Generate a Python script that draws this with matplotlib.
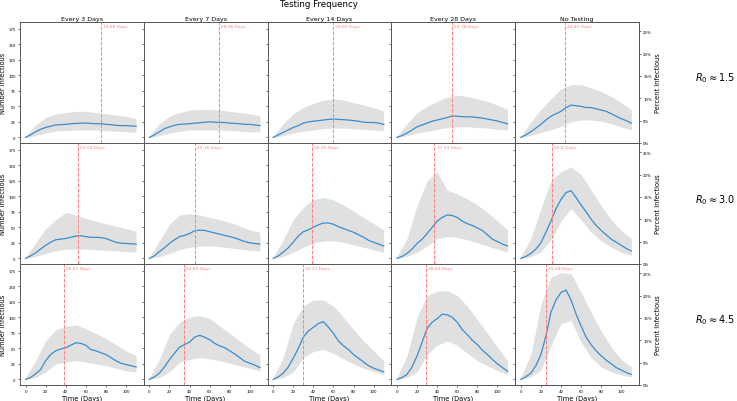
import matplotlib.pyplot as plt
import matplotlib.ticker as mtick

# ---------------- data ----------------
col_titles = ['Every 3 Days', 'Every 7 Days', 'Every 14 Days', 'Every 28 Days', 'No Testing']
row_labels = [r'$R_0 \approx 1.5$', r'$R_0 \approx 3.0$', r'$R_0 \approx 4.5$']

days = list(range(0, 111, 5))          # mean curve sampling
env_days = list(range(0, 111, 10))     # spread envelope sampling

# mean number infectious (blue line), one list per panel
mean_r15 = [
    [0, 4, 9, 13, 16, 18, 20, 20.5, 21, 22, 22.5, 23, 23, 22.5, 22, 22, 21, 20.5, 19.5, 19, 19, 18.5, 18],
    [0, 4, 9, 14, 17, 19.5, 21, 21.5, 22, 23, 23.5, 24.5, 25, 24.5, 24, 24, 23, 22.5, 22, 21, 21, 20, 19],
    [0, 4, 8, 12, 16, 19, 23, 25, 26, 27, 28, 29, 29.5, 29, 28.5, 28, 27, 26, 24.5, 24, 24, 23, 21],
    [0, 3, 7, 12, 17, 20, 23, 26, 28, 30, 32, 34.5, 34, 33.5, 33, 33, 32, 31, 29.5, 28, 26.5, 24, 22],
    [0, 4, 9, 15, 21, 28, 34, 38, 42, 48, 52, 51, 50, 48, 48, 46, 44, 42, 38, 34, 30, 27, 23],
]
mean_r30 = [
    [0, 4, 9, 15, 21, 26, 30, 31, 32, 34, 36, 36.5, 35, 34, 34, 33.5, 32, 29, 26, 24.5, 24, 23.5, 23],
    [0, 4, 11, 17, 24, 30, 35, 37, 40, 44.5, 45.5, 45, 43, 41, 39, 37, 35, 33, 30, 27, 25, 24, 23],
    [0, 4, 10, 17, 26, 36, 43, 46, 50, 54, 57, 57, 55, 51, 48, 45, 42, 38, 34, 29, 26, 23, 20],
    [0, 3, 8, 15, 24, 31, 40, 50, 60, 66, 70, 69, 66, 60, 56, 53, 49, 45, 38, 31, 27, 23, 20],
    [0, 3, 8, 15, 25, 42, 60, 80, 95, 106, 109, 98, 86, 75, 63, 53, 45, 38, 31, 26, 21, 16, 12],
]
mean_r45 = [
    [0, 3, 9, 16, 30, 40, 46, 49, 51, 55, 59, 58, 55, 48, 46, 43, 40, 35, 30, 26, 24, 22, 20],
    [0, 4, 10, 20, 32, 42, 52, 56, 60, 68, 71, 68, 64, 58, 54, 51, 46, 41, 35, 29, 26, 23, 19],
    [0, 4, 10, 20, 34, 50, 68, 78, 84, 90, 93, 84, 74, 62, 54, 48, 40, 34, 28, 22, 18, 15, 12],
    [0, 3, 8, 20, 38, 60, 82, 92, 98, 105, 104, 100, 92, 80, 72, 63, 56, 47, 40, 32, 25, 19, 13],
    [0, 4, 10, 22, 40, 70, 108, 128, 140, 144, 128, 105, 86, 68, 56, 46, 38, 31, 25, 19, 15, 11, 8],
]

# lowest / highest of the grey simulation runs
low_r15 = [
    [0, 3, 7, 10, 11, 12, 12, 12, 11, 10, 9, 8],
    [0, 3, 7, 10, 12, 12, 12, 12, 11, 10, 9, 9],
    [0, 3, 7, 10, 12, 14, 15, 15, 14, 13, 12, 11],
    [0, 3, 7, 10, 13, 16, 17, 17, 16, 15, 13, 12],
    [0, 3, 8, 12, 18, 25, 28, 28, 26, 22, 17, 12],
]
high_r15 = [
    [2, 20, 32, 38, 40, 42, 42, 40, 38, 36, 34, 30],
    [2, 22, 34, 40, 44, 45, 45, 44, 42, 40, 38, 35],
    [2, 22, 38, 48, 55, 60, 62, 60, 56, 52, 48, 42],
    [2, 22, 40, 50, 58, 65, 68, 66, 62, 58, 52, 45],
    [2, 25, 45, 62, 78, 85, 85, 80, 74, 66, 56, 45],
]
low_r30 = [
    [0, 3, 8, 12, 15, 15, 15, 14, 13, 12, 11, 10],
    [0, 3, 8, 14, 18, 20, 20, 19, 17, 15, 13, 12],
    [0, 3, 10, 18, 25, 28, 28, 26, 22, 18, 14, 10],
    [0, 3, 10, 20, 32, 35, 34, 30, 25, 20, 15, 10],
    [0, 3, 10, 30, 60, 80, 62, 42, 28, 18, 10, 5],
]
high_r30 = [
    [2, 25, 48, 62, 74, 70, 64, 60, 56, 52, 48, 44],
    [2, 28, 55, 70, 72, 70, 66, 62, 58, 52, 46, 42],
    [2, 30, 62, 82, 95, 98, 94, 86, 76, 66, 56, 46],
    [3, 32, 85, 125, 139, 110, 104, 96, 86, 74, 60, 46],
    [3, 32, 80, 125, 140, 147, 135, 110, 85, 62, 45, 32],
]
low_r45 = [
    [0, 3, 12, 25, 28, 30, 28, 25, 22, 18, 14, 12],
    [0, 3, 12, 28, 32, 35, 33, 30, 26, 22, 18, 14],
    [0, 3, 12, 35, 45, 48, 42, 33, 25, 18, 13, 8],
    [0, 3, 12, 40, 55, 62, 55, 42, 30, 22, 14, 8],
    [0, 4, 15, 55, 90, 95, 60, 35, 20, 12, 7, 4],
]
high_r45 = [
    [3, 30, 62, 80, 85, 88, 82, 74, 66, 56, 46, 38],
    [3, 32, 72, 92, 100, 103, 98, 86, 74, 62, 50, 40],
    [3, 35, 90, 118, 128, 128, 118, 100, 80, 62, 46, 30],
    [3, 38, 100, 135, 142, 143, 135, 118, 96, 74, 52, 30],
    [3, 40, 120, 165, 172, 170, 140, 108, 78, 52, 32, 20],
]

# mean time to peak (red dashed line)
peak_r15 = [74.88, 68.96, 59.85, 54.78, 44.45]
peak_r30 = [52.02, 45.16, 38.95, 37.33, 30.8]
peak_r45 = [38.67, 34.89, 30.11, 28.64, 25.44]

means = [mean_r15, mean_r30, mean_r45]
lows = [low_r15, low_r30, low_r45]
highs = [high_r15, high_r30, high_r45]
peaks = [peak_r15, peak_r30, peak_r45]

# ---------------- plot ----------------
fig, axes = plt.subplots(3, 5, sharex=True, sharey=True, figsize=(7.37, 4.02), dpi=100)
plt.subplots_adjust(left=0.027, right=0.867, top=0.943, bottom=0.040, wspace=0, hspace=0)

row_y = [0.806, 0.502, 0.204]

for r in range(3):
    for c in range(5):
        ax = axes[r, c]
        ax.fill_between(env_days, lows[r][c], highs[r][c], color='#e0e0e0', linewidth=0)
        ax.plot(days, means[r][c], color='#3a8ccc', linewidth=0.9)
        ax.axvline(peaks[r][c], color='#ff8080', linestyle='--', linewidth=0.7)
        ax.text(peaks[r][c] + 2, 0.965, f'{peaks[r][c]} Days', color='#ff8080',
                fontsize=3.2, va='center', transform=ax.get_xaxis_transform())
        ax.set_xlim(-5.6, 117.6)
        ax.set_ylim(-8.9, 186)
        ax.set_xticks([0, 20, 40, 60, 80, 100])
        ax.set_yticks([0, 25, 50, 75, 100, 125, 150, 175])
        ax.tick_params(labelsize=2.8, length=1.5, width=0.4, pad=1.5)
        for s in ax.spines.values():
            s.set_color('#555555')
            s.set_linewidth(0.7)
        if r == 0:
            ax.set_title(col_titles[c], fontsize=4.6, pad=1.5)
        if c == 0:
            ax.set_ylabel('Number Infectious', fontsize=4.8, labelpad=1.5)
        if r == 2:
            ax.set_xlabel('Time (Days)', fontsize=4.8, labelpad=1)
        if c == 4:
            ax2 = ax.twinx()
            ax2.set_ylim(0, 0.271)
            ax2.set_yticks([0, 0.05, 0.10, 0.15, 0.20, 0.25])
            ax2.yaxis.set_major_formatter(mtick.PercentFormatter(1.0, decimals=0))
            ax2.tick_params(labelsize=2.8, length=1.5, width=0.4, pad=1.5)
            ax2.set_ylabel('Percent Infectious', fontsize=4.8, labelpad=2)
            for s in ax2.spines.values():
                s.set_color('#555555')
                s.set_linewidth(0.7)

    # row labels sit to the right of each row
    fig.text(0.97, row_y[r], row_labels[r], fontsize=7, ha='center', va='center')

fig.suptitle('Testing Frequency', x=0.433, y=0.988, va='center', fontsize=6.2)

plt.savefig('out.png', dpi=100)
